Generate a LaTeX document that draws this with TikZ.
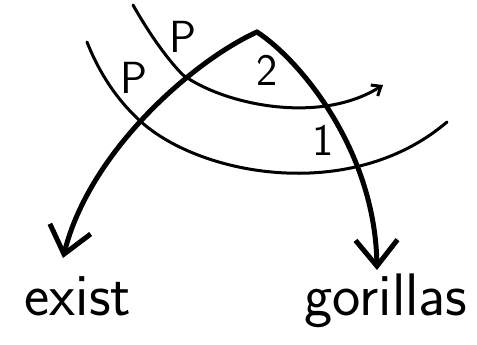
\documentclass[tikz,border=0pt]{standalone}
\usepackage{tikz}
\usetikzlibrary{arrows.meta}

\begin{document}
\begin{tikzpicture}[
  x=1pt,y=-1pt,
  lbl/.style={font=\sffamily\fontsize{45}{45}\selectfont,inner sep=0pt},
  word/.style={font=\sffamily\fontsize{60}{60}\selectfont,anchor=base,inner sep=0pt},
  sweep/.style={line width=3pt,line cap=round},
  ar/.style={-{Straight Barb[length=26pt,width=42pt]},line width=5pt,line cap=round,line join=round}
]
\useasboundingbox (0,0) rectangle (477,345);
\coordinate (apex) at (257,32);
\coordinate (ci) at (183,75);  \coordinate (co) at (137,118);
\coordinate (si) at (133,5);   \coordinate (so) at (87,42);
\coordinate (ei) at (383,85);  \coordinate (eo) at (447,122);
\coordinate (tl) at (63,258);  \coordinate (tr) at (377,270);
\node[lbl] (pi) at (183,37) {P};
\node[lbl] (po) at (134,78) {P};
\node[lbl] (two) at (267,70) {2};
\node[lbl] (one) at (323,140) {1};
\node[word] (ex) at (78,315) {exist};
\node[word] (go) at (386,315) {gorillas};
\draw[sweep,-{Straight Barb[length=8pt,width=13pt]}] (si) .. controls (150,35) and (168,60) .. (ci)
  .. controls (225,105) and (320,125) .. (ei);
\draw[sweep] (so) .. controls (100,75) and (118,100) .. (co)
  .. controls (195,175) and (350,205) .. (eo);
\draw[ar] (apex) .. controls (195,60) and (90,150) .. (tl);
\draw[ar] (apex) .. controls (300,60) and (375,150) .. (tr);
\end{tikzpicture}
\end{document}
